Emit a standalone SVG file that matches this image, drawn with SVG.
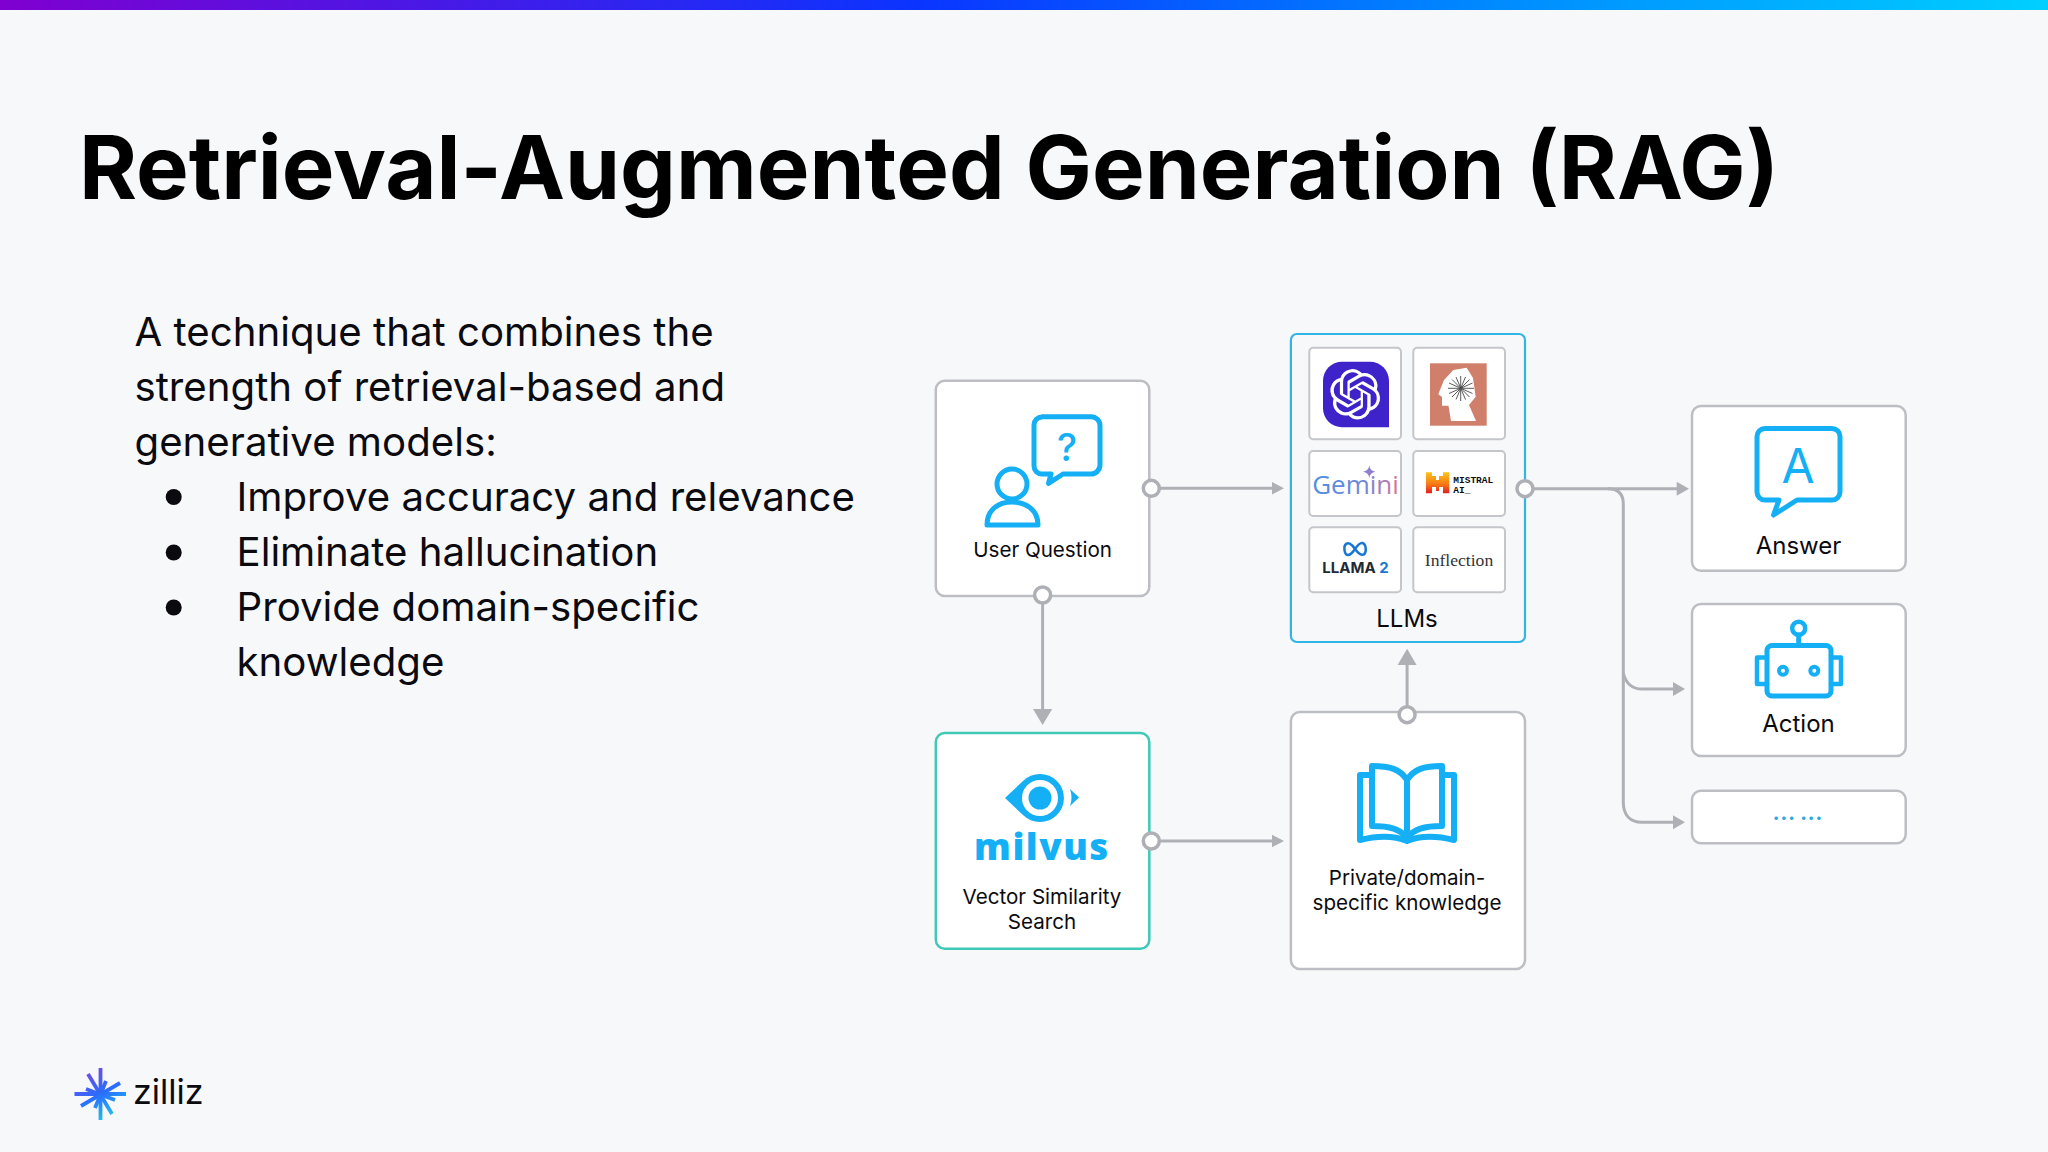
<svg xmlns="http://www.w3.org/2000/svg" width="2048" height="1152" viewBox="0 0 2048 1152">
<style>
text{font-family:"Inter","Liberation Sans",sans-serif;fill:#0b0b0f}
.body{font-size:40.200px}
.lbl{font-size:20.600px;text-anchor:middle}
.lbl2{font-size:24px;text-anchor:middle}
.box{fill:#fff;stroke:#bcbec3;stroke-width:2.500}
.small{fill:#fff;stroke:#c4c6ca;stroke-width:2}
.ic{fill:none;stroke:#14aff5;stroke-width:5;stroke-linejoin:round;stroke-linecap:round}
.ln{fill:none;stroke:#aeb0b5;stroke-width:3}
.port{fill:#fff;stroke:#aeb0b5;stroke-width:3.500}
.ah{fill:#aeb0b5}
</style>
<defs>
<linearGradient id="bar" x1="0" x2="1" y1="0" y2="0"><stop offset="0" stop-color="#8000d0"/><stop offset="0.45" stop-color="#0a35ff"/><stop offset="0.72" stop-color="#0088ff"/><stop offset="1" stop-color="#00d0ff"/></linearGradient>
<linearGradient id="gem" x1="0" x2="1" y1="0" y2="0"><stop offset="0" stop-color="#4f8ee0"/><stop offset="0.6" stop-color="#6f86d8"/><stop offset="1" stop-color="#d4789a"/></linearGradient>
<linearGradient id="mis" x1="0" x2="0" y1="0" y2="1"><stop offset="0" stop-color="#fcc419"/><stop offset="0.6" stop-color="#f97316"/><stop offset="1" stop-color="#e11d1d"/></linearGradient>
<linearGradient id="star" gradientUnits="userSpaceOnUse" x1="86" y1="1068" x2="112" y2="1120"><stop offset="0" stop-color="#7a48e0"/><stop offset="0.5" stop-color="#2a6cff"/><stop offset="1" stop-color="#22c8ee"/></linearGradient>
</defs>
<rect width="2048" height="1152" fill="#f7f8fa"/>
<rect width="2048" height="10" fill="url(#bar)"/>
<text x="79" y="199" font-size="88.500" font-weight="700" style="fill:#000">Retrieval-Augmented Generation (RAG)</text>
<g id="body-text">
<text class="body" x="134.500" y="346">A technique that combines the</text>
<text class="body" x="134.500" y="401">strength of retrieval-based and</text>
<text class="body" x="134.500" y="456">generative models:</text>
<circle cx="173.700" cy="497" r="8" fill="#0b0b0f"/>
<text class="body" x="236.500" y="511">Improve accuracy and relevance</text>
<circle cx="173.700" cy="552.500" r="8" fill="#0b0b0f"/>
<text class="body" x="236.500" y="566">Eliminate hallucination</text>
<circle cx="173.700" cy="607.500" r="8" fill="#0b0b0f"/>
<text class="body" x="236.500" y="621">Provide domain-specific</text>
<text class="body" x="236.500" y="676">knowledge</text>
</g>
<g id="user-question">
<rect class="box" x="935.800" y="380.700" width="213.500" height="215.300" rx="9"/>
<path class="ic" d="M1042 416.700H1091a9 9 0 0 1 9 9V465a9 9 0 0 1-9 9H1063L1048.500 483.300L1051 474H1042a8 8 0 0 1-8-8V425a8 8 0 0 1 8-8z"/>
<text x="1067" y="461" font-size="38" text-anchor="middle" style="fill:#14aff5" font-weight="500">?</text>
<circle class="ic" cx="1012" cy="484" r="15"/>
<path class="ic" d="M987 525C987 510 998 502 1012 502S1038 510 1038 525z"/>
<text class="lbl" x="1042.600" y="557">User Question</text>
</g>
<g id="llms">
<rect x="1290.900" y="334" width="234.100" height="308" rx="6" fill="#f7f8fa" stroke="#33b4e6" stroke-width="2.200"/>
<rect class="small" x="1309.300" y="347.700" width="91.700" height="91.600" rx="4"/>
<rect class="small" x="1413.300" y="347.700" width="91.700" height="91.600" rx="4"/>
<rect class="small" x="1309.300" y="451" width="91.700" height="65" rx="4"/>
<rect class="small" x="1413.300" y="451" width="91.700" height="65" rx="4"/>
<rect class="small" x="1309.300" y="527.300" width="91.700" height="65" rx="4"/>
<rect class="small" x="1413.300" y="527.300" width="91.700" height="65" rx="4"/>
<path d="M1342 361.700H1370a19 19 0 0 1 19 19V427.300H1342a19 19 0 0 1-19-19V380.700a19 19 0 0 1 19-19z" fill="#3d23c9"/>
<path transform="translate(1330 369.100) scale(2.100)" fill="#fff" d="M22.2819 9.8211a5.9847 5.9847 0 0 0-.5157-4.9108 6.0462 6.0462 0 0 0-6.5098-2.9A6.0651 6.0651 0 0 0 4.9807 4.1818a5.9847 5.9847 0 0 0-3.9977 2.9 6.0462 6.0462 0 0 0 .7427 7.0966 5.98 5.98 0 0 0 .511 4.9107 6.051 6.051 0 0 0 6.5146 2.9001A5.9847 5.9847 0 0 0 13.2599 24a6.0557 6.0557 0 0 0 5.7718-4.2058 5.9894 5.9894 0 0 0 3.9977-2.9001 6.0557 6.0557 0 0 0-.7475-7.0729zm-9.022 12.6081a4.4755 4.4755 0 0 1-2.8764-1.0408l.1419-.0804 4.7783-2.7582a.7948.7948 0 0 0 .3927-.6813v-6.7369l2.02 1.1686a.071.071 0 0 1 .038.052v5.5826a4.504 4.504 0 0 1-4.4945 4.4944zm-9.6607-4.1254a4.4708 4.4708 0 0 1-.5346-3.0137l.142.0852 4.783 2.7582a.7712.7712 0 0 0 .7806 0l5.8428-3.3685v2.3324a.0804.0804 0 0 1-.0332.0615L9.74 19.9502a4.4992 4.4992 0 0 1-6.1408-1.6464zM2.3408 7.8956a4.485 4.485 0 0 1 2.3655-1.9728V11.6a.7664.7664 0 0 0 .3879.6765l5.8144 3.3543-2.0201 1.1685a.0757.0757 0 0 1-.071 0l-4.8303-2.7865A4.504 4.504 0 0 1 2.3408 7.872zm16.5963 3.8558L13.1038 8.364 15.1192 7.2a.0757.0757 0 0 1 .071 0l4.8303 2.7913a4.4944 4.4944 0 0 1-.6765 8.1042v-5.6772a.79.79 0 0 0-.407-.667zm2.0107-3.0231l-.142-.0852-4.7735-2.7818a.7759.7759 0 0 0-.7854 0L9.409 9.2297V6.8974a.0662.0662 0 0 1 .0284-.0615l4.8303-2.7866a4.4992 4.4992 0 0 1 6.6802 4.66zM8.3065 12.863l-2.02-1.1638a.0804.0804 0 0 1-.038-.0567V6.0742a4.4992 4.4992 0 0 1 7.3757-3.4537l-.142.0805L8.704 5.459a.7948.7948 0 0 0-.3927.6813zm1.0976-2.3654l2.602-1.4998 2.6069 1.4998v2.9994l-2.5974 1.4997-2.6067-1.4997Z"/>
<rect x="1430" y="363.300" width="56.700" height="62.400" fill="#d0806a"/>
<path d="M1451 421L1448.500 405.700H1442L1442 397L1438.300 394.300L1444 380L1453.300 370L1466.700 367.700L1473 378L1475.700 396.700L1469 405L1476 421z" fill="#fff"/>
<g stroke="#4a4a4a" stroke-width="0.900">
<path d="M1448 388.300H1474M1460.700 376V401M1452 379.500L1469.500 397M1452 397L1469.500 379.500M1449 383L1472.500 393.500M1449 393.500L1472.500 383M1456 377L1465.500 399.500M1456 399.500L1465.500 377"/>
</g>
<text x="1355.500" y="494" font-size="26" text-anchor="middle" style="fill:url(#gem);font-family:'Open Sans',sans-serif;font-weight:400">Gemini</text>
<path d="M1369.300 465.500Q1370 471 1375.500 471.700Q1370 472.400 1369.300 478Q1368.600 472.400 1363 471.700Q1368.600 471 1369.300 465.500z" fill="#8f7fd0"/>
<path d="M1426 472.300H1432V476H1436V480H1439V476H1443V472.300H1449.300V493.300H1443V487H1439V491H1436V487H1432V493.300H1426z" fill="url(#mis)"/>
<text x="1453.300" y="482.700" style="font-family:'Liberation Mono',monospace;font-size:9.500px;font-weight:700">MISTRAL</text>
<text x="1453.300" y="493.300" style="font-family:'Liberation Mono',monospace;font-size:9.500px;font-weight:700">AI_</text>
<path d="M1355 549C1351 543 1348 542.500 1346 544C1343 546.500 1344.500 555 1348 555C1351 555 1353 552 1355 549C1357 546 1359.500 542.500 1362.500 543C1366 544 1367 552 1364 554.500C1361 556 1358 553 1355 549z" fill="none" stroke="#1877d2" stroke-width="2.500"/>
<text x="1355.500" y="573.300" font-size="15" font-weight="700" text-anchor="middle" style="fill:#1f2a33">LLAMA <tspan style="fill:#1877d2">2</tspan></text>
<text x="1459" y="566" text-anchor="middle" style="font-family:'Liberation Serif',serif;font-size:17.600px;fill:#333">Inflection</text>
<text class="lbl2" x="1407" y="627">LLMs</text>
</g>
<g id="vector-search">
<rect x="935.800" y="733" width="213.500" height="215.700" rx="9" fill="#fff" stroke="#3fc9b8" stroke-width="2.500"/>
<path d="M1005 798L1023 781A24 24 0 1 1 1023 815z" fill="#14aff5"/>
<circle cx="1040" cy="798" r="18" fill="#fff"/>
<circle cx="1040" cy="798" r="11.500" fill="#14aff5"/>
<path d="M1070 789L1079 797.500L1070 806C1072 800 1072 795 1070 789z" fill="#14aff5"/>
<text x="1042" y="859.500" text-anchor="middle" style="font-family:'Open Sans',sans-serif;font-size:36.800px;font-weight:800;fill:#14aff5;letter-spacing:1.500px">milvus</text>
<text class="lbl" x="1042" y="904">Vector Similarity</text>
<text class="lbl" x="1042" y="929">Search</text>
</g>
<g id="knowledge">
<rect class="box" x="1290.900" y="712" width="234.100" height="257" rx="9"/>
<path class="ic" style="stroke-width:6" d="M1407 780C1400 769 1390 766 1372 766V826C1390 826 1400 829 1407 838C1414 829 1424 826 1442 826V766C1424 766 1414 769 1407 780V838"/>
<path class="ic" style="stroke-width:6" d="M1372 775H1360V840C1380 835 1395 836 1407 841C1419 836 1434 835 1454 840V775H1442"/>
<text class="lbl" x="1407" y="885">Private/domain-</text>
<text class="lbl" x="1407" y="910">specific knowledge</text>
</g>
<g id="answer">
<rect class="box" x="1692" y="406" width="213.700" height="164.700" rx="9"/>
<path class="ic" d="M1765 428.500H1832a8 8 0 0 1 8 8V492a8 8 0 0 1-8 8H1797L1773.500 515L1779 500H1765a8 8 0 0 1-8-8V436.500a8 8 0 0 1 8-8z"/>
<text x="1798" y="483" font-size="48" text-anchor="middle" style="fill:#14aff5">A</text>
<text class="lbl2" x="1798.500" y="554">Answer</text>
</g>
<g id="action">
<rect class="box" x="1692" y="604" width="213.700" height="152" rx="9"/>
<circle class="ic" cx="1798.700" cy="628.300" r="6.500" style="stroke-width:4.500"/>
<path class="ic" d="M1798.700 635V645"/>
<rect class="ic" x="1767" y="645.500" width="64" height="50.500" rx="5"/>
<path class="ic" d="M1767 657.500H1757V684H1767M1831 657.500H1841V684H1831" style="stroke-width:4.500"/>
<circle class="ic" cx="1783" cy="670.700" r="4" style="stroke-width:4"/>
<circle class="ic" cx="1814.300" cy="670.700" r="4" style="stroke-width:4"/>
<text class="lbl2" x="1798.500" y="732">Action</text>
</g>
<g id="more">
<rect class="box" x="1692" y="790.700" width="213.700" height="52.600" rx="9"/>
<text x="1798" y="820" font-size="19" font-weight="800" text-anchor="middle" letter-spacing="1" style="fill:#29abe2">... ...</text>
</g>
<g id="connectors">
<path class="ln" d="M1158 488.300H1274"/><path class="ah" d="M1284 488.300L1272 482V494.600z"/>
<path class="ln" d="M1042.600 603V712"/><path class="ah" d="M1042.600 725L1033 709H1052.200z"/>
<path class="ln" d="M1158 841H1274"/><path class="ah" d="M1284 841L1272 834.700V847.300z"/>
<path class="ln" d="M1407.100 706V662"/><path class="ah" d="M1407.100 648.700L1397.600 665H1416.600z"/>
<path class="ln" d="M1532 488.700H1678"/><path class="ah" d="M1689 488.700L1676.700 481.700V495.700z"/>
<path class="ln" d="M1608 488.700C1618 488.700 1623.300 494 1623.300 504V802C1623.300 815 1630 822.300 1642 822.300H1675"/><path class="ah" d="M1685 822.300L1673 815.300V829.300z"/>
<path class="ln" d="M1623.300 673C1626 684 1632 689 1642 689H1675"/><path class="ah" d="M1685 689L1673 682V696z"/>
<circle class="port" cx="1151.300" cy="488.300" r="8"/>
<circle class="port" cx="1042.600" cy="595" r="8"/>
<circle class="port" cx="1151.300" cy="841" r="8"/>
<circle class="port" cx="1407.100" cy="714.700" r="8"/>
<circle class="port" cx="1525" cy="488.700" r="8"/>
</g>
<g id="logo">
<g stroke="url(#star)" stroke-width="3.800" fill="none">
<path d="M100.500 1068V1120"/>
<path d="M74.500 1094H126"/>
<path d="M88 1074L112 1114"/>
<path d="M120 1083L81 1106"/>
<path d="M106 1081L95 1108"/>
<path d="M86 1089L115 1100"/>
</g>
<text x="133" y="1104" font-size="34" font-weight="400">zilliz</text>
</g>
</svg>
